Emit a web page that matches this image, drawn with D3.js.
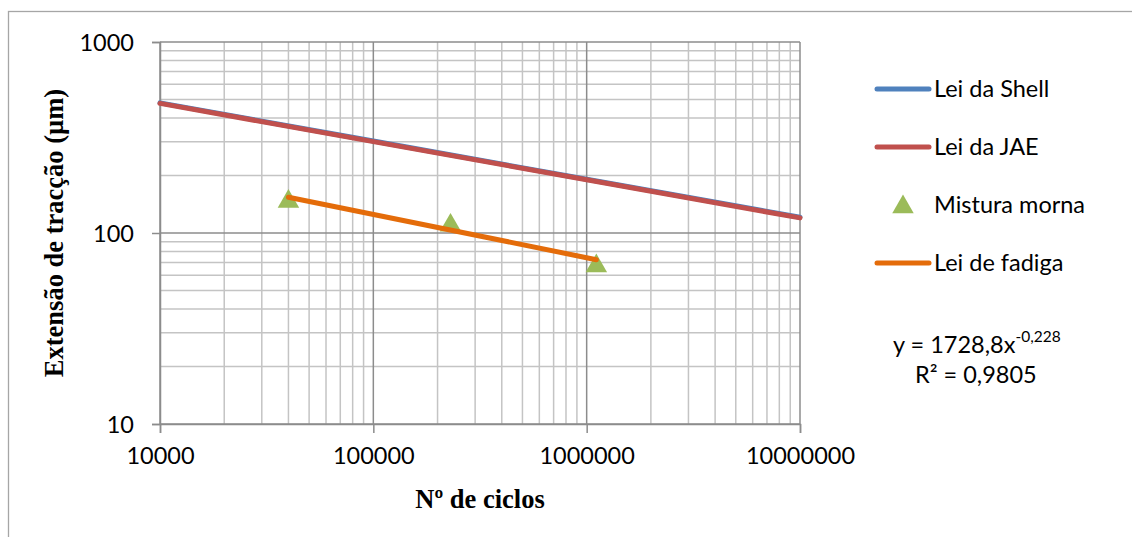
<!DOCTYPE html>
<html>
<head>
<meta charset="utf-8">
<script src="https://cdn.jsdelivr.net/npm/d3@7"></script>
<style>
  html, body { margin: 0; padding: 0; background: #fff; }
  svg { display: block; }
</style>
</head>
<body>
<svg id="chart" width="1132" height="537"></svg>
<script>
// ---------- data ----------
const cycles = [10000, 100000, 1000000, 10000000];
const shellStrain = [480, 303, 191, 121];
const jaeStrain = [477, 301, 190, 120];
const mixCycles = [40000, 230000, 1110000];
const mixStrain = [148, 111, 68];
const fitCycles = [40000, 1110000];
const fitStrain = [154, 72.5];
const xTickLabels = ["10000", "100000", "1000000", "10000000"];
const yTickValues = [10, 100, 1000];
const yTickLabels = ["10", "100", "1000"];
const seriesNames = ["Lei da Shell", "Lei da JAE", "Mistura morna", "Lei de fadiga"];
const equationText = ["y = 1728,8x", "-0,228"];
const r2Text = "R² = 0,9805";

// ---------- layout ----------
const svg = d3.select("#chart");
const L = 160, R = 800, T = 42, B = 424;
const x = d3.scaleLog().domain([1e4, 1e7]).range([L, R]);
const y = d3.scaleLog().domain([10, 1000]).range([B, T]);

const sans = "Lato, 'Open Sans', sans-serif";
const serif = "'Liberation Serif', 'Times New Roman', serif";
const fs = 23.5;
const colors = { shell: "#4F81BD", jae: "#C0504D", mix: "#9BBB59", fit: "#E46C0A" };

// chart border
svg.append("rect").attr("x", 8.5).attr("y", 11.5).attr("width", 1200).attr("height", 600)
  .attr("fill", "none").attr("stroke", "#a6a6a6").attr("stroke-width", 1.3);

// minor grid
const isMajor = v => Math.abs(Math.log10(v) - Math.round(Math.log10(v))) < 1e-9;
const g = svg.append("g");
const xt = x.ticks().filter(v => !isMajor(v));
const yt = y.ticks().filter(v => !isMajor(v));
g.selectAll(".vx").data(xt).join("line")
  .attr("x1", d => x(d)).attr("x2", d => x(d)).attr("y1", T).attr("y2", B)
  .attr("stroke", "#c4c4c4").attr("stroke-width", 1.5);
g.selectAll(".hy").data(yt).join("line")
  .attr("y1", d => y(d)).attr("y2", d => y(d)).attr("x1", L).attr("x2", R)
  .attr("stroke", "#c4c4c4").attr("stroke-width", 1.5);

// major grid
g.selectAll(".mx").data(cycles).join("line")
  .attr("x1", d => x(d)).attr("x2", d => x(d)).attr("y1", T).attr("y2", B)
  .attr("stroke", "#8c8c8c").attr("stroke-width", 1.5);
g.selectAll(".my").data(yTickValues).join("line")
  .attr("y1", d => y(d)).attr("y2", d => y(d)).attr("x1", L).attr("x2", R)
  .attr("stroke", "#8c8c8c").attr("stroke-width", 1.5);

// axes
const xAxis = d3.axisBottom(x).tickValues(cycles).tickSize(9).tickPadding(14)
  .tickFormat((d, i) => xTickLabels[i]);
const yAxis = d3.axisLeft(y).tickValues(yTickValues).tickSize(8).tickPadding(18)
  .tickFormat((d, i) => yTickLabels[i]);
const gx = svg.append("g").attr("transform", `translate(0,${B})`).call(xAxis);
const gy = svg.append("g").attr("transform", `translate(${L},0)`).call(yAxis);
[gx, gy].forEach(a => {
  a.select(".domain").attr("stroke", "#8c8c8c").attr("stroke-width", 1.5);
  a.selectAll(".tick line").attr("stroke", "#8c8c8c").attr("stroke-width", 1.5);
  a.selectAll("text").attr("font-family", sans).attr("font-size", fs).attr("fill", "#000");
});
gx.selectAll("text").attr("dy", "0.71em");
gy.selectAll("text").attr("dy", "0.36em");

// series
const line = d3.line().x(d => x(d[0])).y(d => y(d[1]));
svg.append("path").datum(d3.zip(cycles, shellStrain)).attr("d", line)
  .attr("fill", "none").attr("stroke", colors.shell).attr("stroke-width", 5).attr("stroke-linecap", "round");
svg.append("path").datum(d3.zip(cycles, jaeStrain)).attr("d", line)
  .attr("fill", "none").attr("stroke", colors.jae).attr("stroke-width", 5).attr("stroke-linecap", "round");

const tri = d3.symbol().type(d3.symbolTriangle).size(200);
svg.selectAll(".mix").data(d3.zip(mixCycles, mixStrain)).join("path")
  .attr("d", tri).attr("transform", d => `translate(${x(d[0])},${y(d[1]) + 1})`)
  .attr("fill", colors.mix);

svg.append("path").datum(d3.zip(fitCycles, fitStrain)).attr("d", line)
  .attr("fill", "none").attr("stroke", colors.fit).attr("stroke-width", 5).attr("stroke-linecap", "round");

// axis titles
svg.append("text").attr("x", 480).attr("y", 508).attr("text-anchor", "middle")
  .attr("font-family", serif).attr("font-weight", "bold").attr("font-size", 26.5)
  .text("Nº de ciclos");
svg.append("text").attr("transform", "translate(63,233) rotate(-90)").attr("text-anchor", "middle")
  .attr("font-family", serif).attr("font-weight", "bold").attr("font-size", 26.5)
  .text("Extensão de tracção (µm)");

// legend
const legY = [89, 147, 205, 263];
const legColors = [colors.shell, colors.jae, colors.mix, colors.fit];
const leg = svg.append("g");
seriesNames.forEach((name, i) => {
  if (i === 2) {
    leg.append("path").attr("d", tri).attr("transform", `translate(903,${legY[i] + 2})`).attr("fill", legColors[i]);
  } else {
    leg.append("line").attr("x1", 877).attr("x2", 929).attr("y1", legY[i]).attr("y2", legY[i])
      .attr("stroke", legColors[i]).attr("stroke-width", 5).attr("stroke-linecap", "round");
  }
  leg.append("text").attr("x", 934).attr("y", legY[i]).attr("dy", "0.36em")
    .attr("font-family", sans).attr("font-size", fs).text(name);
});

// equation
const eq = svg.append("text").attr("x", 893).attr("y", 353)
  .attr("font-family", sans).attr("font-size", fs);
eq.append("tspan").text(equationText[0]);
eq.append("tspan").attr("dy", -11).attr("font-size", 15.5).text(equationText[1]);
svg.append("text").attr("x", 915).attr("y", 383)
  .attr("font-family", sans).attr("font-size", fs).text(r2Text);
</script>
</body>
</html>
